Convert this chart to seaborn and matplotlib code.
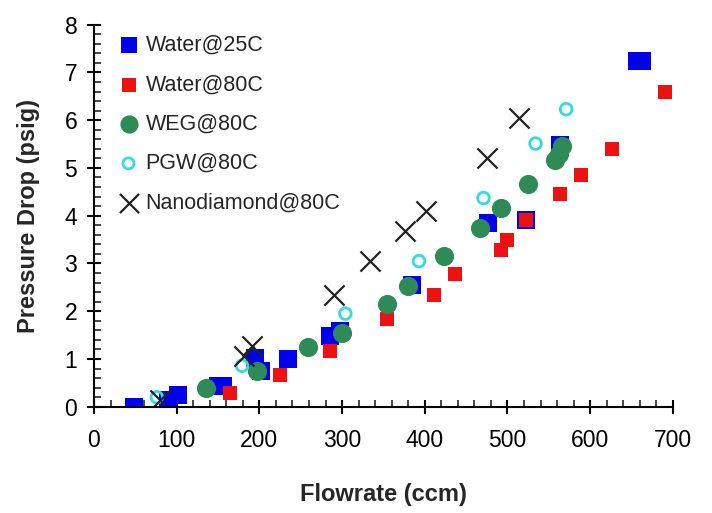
import numpy as np
import pandas as pd
import matplotlib
matplotlib.use('Agg')
import matplotlib.pyplot as plt
import seaborn as sns
from matplotlib.ticker import MultipleLocator

# Data
water25_flow = [48, 90, 102, 150, 156, 195, 202, 235, 286, 298, 385, 477, 522, 564, 657, 663]
water25_dp = [0, 0.15, 0.24, 0.43, 0.43, 1.02, 0.75, 1.0, 1.48, 1.58, 2.56, 3.85, 3.9, 5.49, 7.24, 7.24]

water80_flow = [164, 225, 286, 354, 411, 437, 492, 500, 522, 563, 589, 626, 691]
water80_dp = [0.29, 0.66, 1.16, 1.83, 2.35, 2.77, 3.28, 3.5, 3.9, 4.46, 4.85, 5.4, 6.58]

weg80_flow = [136, 197, 259, 300, 354, 380, 423, 467, 492, 525, 558, 562, 566]
weg80_dp = [0.4, 0.75, 1.25, 1.55, 2.15, 2.52, 3.15, 3.74, 4.16, 4.67, 5.17, 5.3, 5.45]

pgw80_flow = [76, 179, 304, 393, 471, 534, 571]
pgw80_dp = [0.2, 0.86, 1.95, 3.05, 4.37, 5.51, 6.23]

nano80_flow = [80, 181, 191, 290, 334, 376, 401, 475, 514]
nano80_dp = [0.15, 1.06, 1.27, 2.35, 3.05, 3.67, 4.09, 5.21, 6.05]

sns.set_style('ticks')
plt.rcParams['font.family'] = ['Liberation Sans', 'DejaVu Sans']

fig = plt.figure(figsize=(7.12, 5.13), dpi=100)
ax = fig.add_axes([0.132, 0.207, 0.813, 0.745])

# Plot each fluid
sns.scatterplot(x=water25_flow, y=water25_dp, marker='s', s=150, color='#0000ee',
                edgecolor='#0000ee', linewidth=0, label='Water@25C', ax=ax)
sns.scatterplot(x=water80_flow, y=water80_dp, marker='s', s=110, color='#ee1111',
                edgecolor='#ee1111', linewidth=0, label='Water@80C', ax=ax)
sns.scatterplot(x=weg80_flow, y=weg80_dp, marker='o', s=190, color='#2e8b57',
                edgecolor='#2e8b57', linewidth=0, label='WEG@80C', ax=ax)
sns.scatterplot(x=pgw80_flow, y=pgw80_dp, marker='o', s=70, color='#33dddd',
                facecolor='none', edgecolor='#33dddd', linewidth=2, label='PGW@80C', ax=ax)
sns.scatterplot(x=nano80_flow, y=nano80_dp, marker='x', s=210, color='#222222',
                edgecolor='#222222', linewidth=1.6, label='Nanodiamond@80C', ax=ax)

ax.set_xlim(0, 700)
ax.set_ylim(0, 8)
ax.xaxis.set_major_locator(MultipleLocator(100))
ax.xaxis.set_minor_locator(MultipleLocator(20))
ax.yaxis.set_major_locator(MultipleLocator(1))
ax.yaxis.set_minor_locator(MultipleLocator(0.2))
ax.tick_params(which='major', direction='inout', length=10, width=1.5, labelsize=16.5,
               colors='black')
ax.tick_params(axis='x', which='major', pad=11)
ax.tick_params(axis='y', which='major', pad=7)
ax.tick_params(which='minor', direction='in', length=5, width=1.2)
ax.set_xlabel('Flowrate (ccm)', fontsize=17, fontweight='bold', labelpad=22)
ax.set_ylabel('Pressure Drop (psig)', fontsize=17, fontweight='bold', labelpad=18)
sns.despine(ax=ax)
for sp in ['left', 'bottom']:
    ax.spines[sp].set_linewidth(1.5)
    ax.spines[sp].set_color('black')

ax.legend(loc='upper left', bbox_to_anchor=(0.015, 1.012), frameon=False, fontsize=15.5,
          handlelength=1.0, handletextpad=0.3, labelspacing=0.85, markerscale=0.95,
          borderaxespad=0.3)

fig.savefig('out.png', dpi=100)
